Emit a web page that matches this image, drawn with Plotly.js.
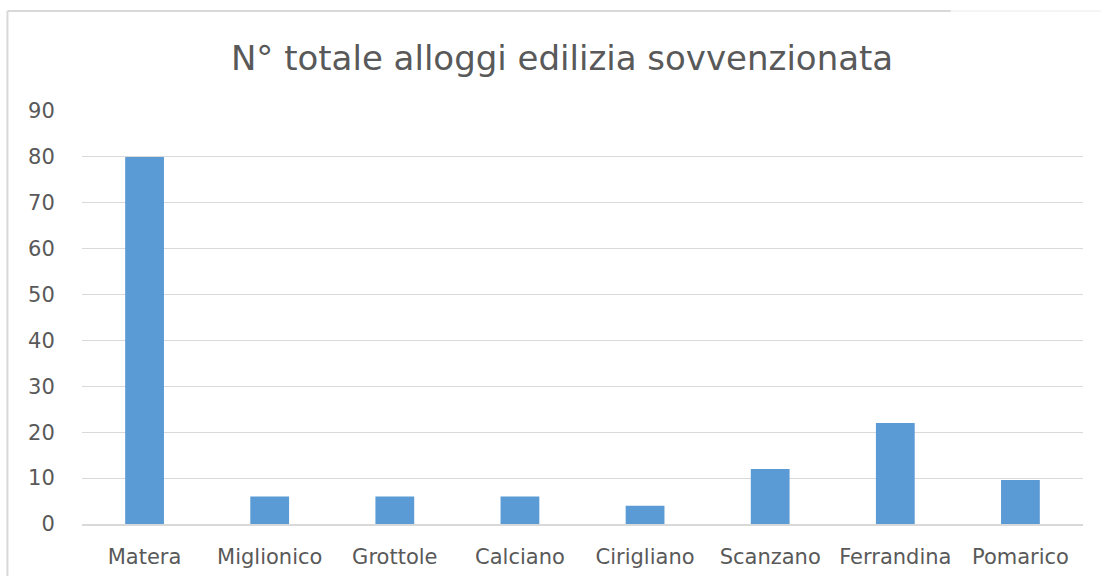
<!DOCTYPE html>
<html>
<head>
<meta charset="utf-8">
<script src="https://cdn.plot.ly/plotly-3.0.1.min.js"></script>
<style>html,body{margin:0;padding:0;background:#fff;}#chart{width:1101px;height:576px;}</style>
</head>
<body>
<div id="chart"></div>
<script>
const categories = ["Matera", "Miglionico", "Grottole", "Calciano", "Cirigliano", "Scanzano", "Ferrandina", "Pomarico"];
const alloggi = [80, 6, 6, 6, 4, 12, 22, 9.6];
const yTicks = [0, 10, 20, 30, 40, 50, 60, 70, 80, 90];

const trace = {
  type: "bar",
  x: categories,
  y: alloggi,
  marker: { color: "#5b9bd5" },
  hoverinfo: "x+y"
};

const layout = {
  width: 1101,
  height: 576,
  margin: { l: 82, r: 18, t: 111, b: 52, pad: 0 },
  paper_bgcolor: "#ffffff",
  plot_bgcolor: "#ffffff",
  bargap: 0.69,
  showlegend: false,
  font: { family: "DejaVu Sans, sans-serif", color: "#595959" },
  title: {
    text: "N° totale alloggi edilizia sovvenzionata",
    font: { family: "DejaVu Sans, sans-serif", size: 34, color: "#595959" },
    x: 0.5105, xanchor: "center", xref: "container",
    y: 0.9, yanchor: "middle", yref: "container"
  },
  xaxis: {
    type: "category",
    tickfont: { family: "DejaVu Sans, sans-serif", size: 21, color: "#595959" },
    showgrid: false,
    showline: true,
    linecolor: "#d9d9d9",
    linewidth: 1.5,
    ticks: "",
    ticklabelstandoff: 13,
    fixedrange: true
  },
  yaxis: {
    range: [0, 90],
    tickvals: yTicks,
    ticktext: yTicks.map(String),
    tickfont: { family: "DejaVu Sans, sans-serif", size: 21, color: "#595959" },
    showgrid: true,
    gridcolor: "#d9d9d9",
    gridwidth: 1,
    zeroline: false,
    showline: false,
    ticks: "outside",
    ticklen: 22,
    tickcolor: "rgba(0,0,0,0)",
    fixedrange: true
  },
  shapes: [
    { type: "line", xref: "paper", yref: "paper", x0: -0.0745, x1: -0.0745, y0: -0.2, y1: 1.242, line: { color: "#d9d9d9", width: 2 } },
    { type: "line", xref: "paper", yref: "paper", x0: -0.0745, x1: 0.868, y0: 1.242, y1: 1.242, line: { color: "#d9d9d9", width: 2 } },
    { type: "line", xref: "paper", yref: "paper", x0: 0.868, x1: 1.02, y0: 1.242, y1: 1.242, line: { color: "#ececec", width: 1 } }
  ]
};

Plotly.newPlot("chart", [trace], layout, { displayModeBar: false, staticPlot: true });
</script>
</body>
</html>
